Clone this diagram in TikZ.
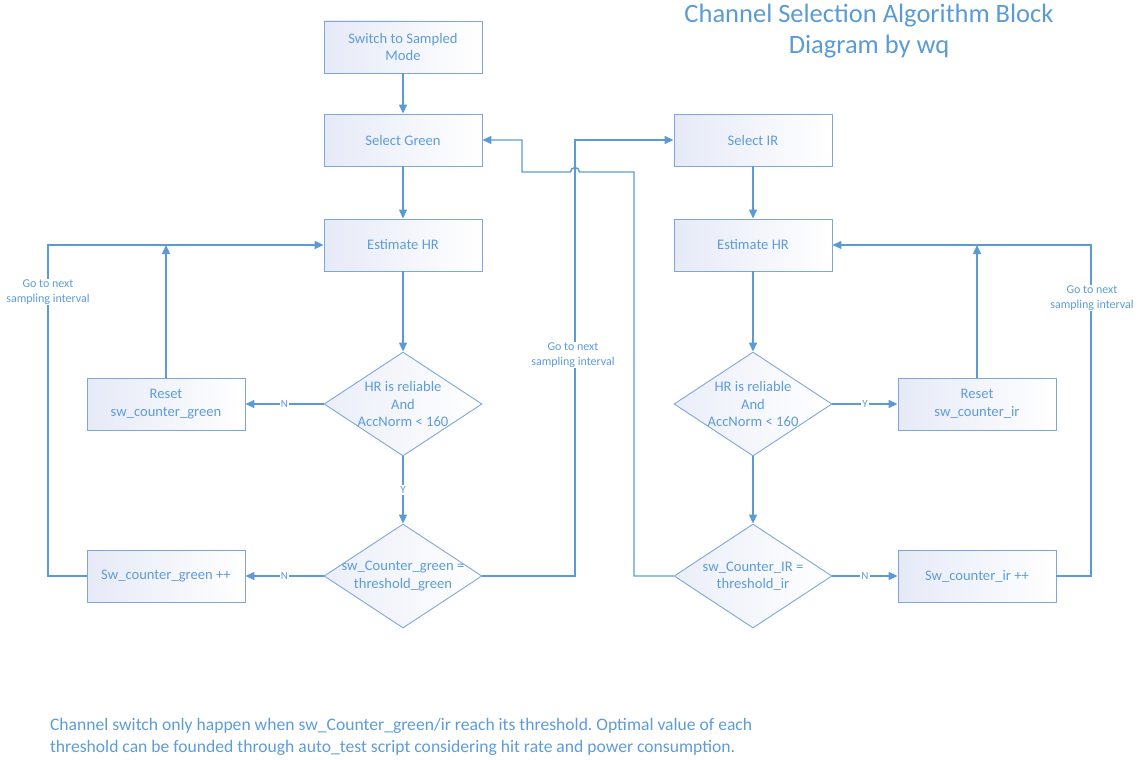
\documentclass[tikz,border=0pt]{standalone}
\usepackage{fontspec}
\setmainfont{Carlito}
\usetikzlibrary{shapes.geometric,arrows.meta}
\definecolor{flowline}{HTML}{5B9BD5}
\definecolor{flowedge}{HTML}{7EA6DA}
\definecolor{flowtext}{HTML}{5E9CD8}
\definecolor{flowfill}{HTML}{E6EAF7}
\frenchspacing
\begin{document}
\begin{tikzpicture}[x=1pt,y=-1pt,
  box/.style={rectangle, draw=flowedge, line width=0.9pt, left color=flowfill, right color=white,
    minimum width=158pt, minimum height=52pt, inner sep=0pt, text=flowtext,
    font=\fontsize{14.6}{17.5}\selectfont, align=center},
  decision/.style={diamond, draw=flowedge, line width=0.9pt, left color=flowfill!80, right color=white,
    minimum width=158pt, minimum height=104pt, inner sep=0pt},
  dtext/.style={text=flowtext, font=\fontsize{14.6}{17.5}\selectfont, align=center},
  flow/.style={draw=flowline, line width=1.4pt, -{Triangle[length=9pt,width=8pt]}},
  tag/.style={fill=white, inner sep=1pt, text=flowtext, font=\fontsize{11}{13}\selectfont},
  note/.style={fill=white, inner sep=1pt, text=flowtext, font=\fontsize{12}{15}\selectfont, align=center}
]
\useasboundingbox (0,0) rectangle (1140,760);

% title and footnote
\node[text=flowline, font=\fontsize{26.5}{31}\selectfont, align=center] (title) at (869,31.5)
  {Channel Selection Algorithm Block\\Diagram by wq};
\node[text=flowtext, font=\fontsize{17.6}{22}\selectfont, align=left, anchor=west] (foot) at (46.5,737)
  {Channel switch only happen when sw\_Counter\_green/ir reach its threshold. Optimal value of each\\
   threshold can be founded through auto\_test script considering hit rate and power consumption.};

% green channel
\node[box] (sw)  at (403,47)  {Switch to Sampled\\Mode};
\node[box] (sg)  at (403,140) {Select Green};
\node[box] (eg)  at (403,245) {Estimate HR};
\node[decision, label={[dtext]center:{HR is reliable\\And\\AccNorm < 160}}] (dg1) at (403,404) {};
\node[box] (rg)  at (166,404) {Reset\\sw\_counter\_green};
\node[decision, label={[dtext]center:{sw\_Counter\_green =\\threshold\_green}}] (dg2) at (403,576) {};
\node[box] (cg)  at (166,576) {Sw\_counter\_green ++};

% IR channel
\node[box] (si)  at (753,140) {Select IR};
\node[box] (ei)  at (753,245) {Estimate HR};
\node[decision, label={[dtext]center:{HR is reliable\\And\\AccNorm < 160}}] (di1) at (753,404) {};
\node[box] (ri)  at (977,404) {Reset\\sw\_counter\_ir};
\node[decision, label={[dtext]center:{sw\_Counter\_IR =\\threshold\_ir}}] (di2) at (753,576) {};
\node[box] (ci)  at (977,576) {Sw\_counter\_ir ++};

% routing columns
\coordinate (lx) at (48,0);
\coordinate (mx) at (575,0);
\coordinate (rx) at (1091,0);
\coordinate (bx) at (634,172);
\coordinate (ax) at (522,172);
\coordinate (hop) at (575,172);

% green flow
\draw[flow] (sw) -- (sg);
\draw[flow] (sg) -- (eg);
\draw[flow] (eg) -- (dg1);
\draw[flow] (dg1.west) -- node[tag] (ng1) {N} (rg.east);
\draw[flow] (dg1.south) -- node[tag] (yg1) {Y} (dg2.north);
\draw[flow] (rg.north) -- (rg.north |- eg.west);
\draw[flow] (dg2.west) -- node[tag] (ng2) {N} (cg.east);
\draw[flow] (cg.west) -- (cg.west -| lx) |- (eg.west);
\node[note] (gl) at (48,292) {Go to next\\sampling interval};

% switch to IR
\draw[flow] (dg2.east) -- (dg2.east -| mx) |- (si.west);
\node[note] (gm) at (573,355) {Go to next\\sampling interval};

% IR flow
\draw[flow] (si) -- (ei);
\draw[flow] (ei) -- (di1);
\draw[flow] (di1.east) -- node[tag] (yi1) {Y} (ri.west);
\draw[flow] (ri.north) -- (ri.north |- ei.east);
\draw[flow] (di1.south) -- (di2.north);
\draw[flow] (di2.east) -- node[tag] (ni2) {N} (ci.west);
\draw[flow] (ci.east) -- (ci.east -| rx) |- (ei.east);
\node[note] (gr) at (1092,298) {Go to next\\sampling interval};

% switch back to green, hopping over the crossing line
\draw[flow] (di2.west) -- (di2.west -| bx) -- (bx) -- ([xshift=4.5pt]hop)
  arc[start angle=0, end angle=180, radius=4.5pt] -- (ax) -- (ax |- sg.east) -- (sg.east);
\end{tikzpicture}
\end{document}
